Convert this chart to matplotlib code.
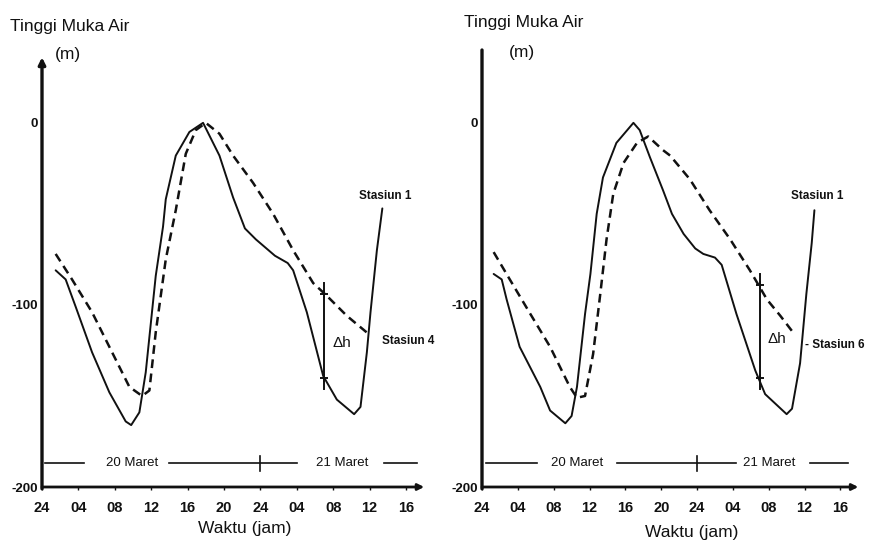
import matplotlib.pyplot as plt
from matplotlib import font_manager

# ---- data (hours since 24:00 on 19 March) ----
tick_hours = [0, 4, 8, 12, 16, 20, 24, 28, 32, 36, 40]
tick_labels = ["24", "04", "08", "12", "16", "20", "24", "04", "08", "12", "16"]
y_ticks = [0, -100, -200]
y_tick_labels = ["0", "-100", "-200"]

# left panel: Stasiun 1 (solid) vs Stasiun 4 (dashed)
st1_a_h = [1.5, 2.6, 3.7, 5.5, 7.4, 9.2, 9.8, 10.7, 11.4, 12.5, 13.3, 13.6, 14.7,
           16.2, 17.7, 19.5, 21.0, 22.3, 23.5, 25.6, 27.0, 27.6, 29.1, 30.9, 32.4,
           34.3, 35.0, 35.7, 36.1, 36.8, 37.4]
st1_a_v = [-81, -86, -101, -126, -148, -164, -166, -159, -137, -84, -57, -42, -18,
           -5, 0, -18, -41, -58, -64, -73, -77, -81, -104, -139, -152,
           -160, -156, -126, -104, -70, -47]
st4_h = [1.5, 3.3, 5.5, 7.7, 9.6, 11.0, 11.8, 12.5, 13.6, 14.7, 15.8, 16.9, 18.0,
         19.5, 21.0, 23.2, 25.4, 27.6, 29.8, 31.3, 33.5, 35.9]
st4_v = [-72, -86, -104, -126, -145, -150, -147, -115, -75, -48, -17, -4, 0,
         -6, -18, -33, -50, -70, -88, -95, -106, -116]

# right panel: Stasiun 1 (solid) vs Stasiun 6 (dashed)
st1_b_h = [1.3, 2.2, 2.75, 4.2, 6.5, 7.6, 9.3, 10.0, 10.6, 11.5, 12.1, 12.8, 13.5,
           15.0, 16.9, 17.6, 18.75, 20.2, 21.2, 22.5, 23.8, 24.7, 26.0, 26.75,
           28.4, 30.5, 31.6, 34.0, 34.6, 35.5, 36.2, 36.8, 37.1]
st1_b_v = [-83, -86, -97, -123, -145, -158, -165, -161, -145, -105, -83, -50, -30,
           -11, 0, -4, -19, -37, -50, -61, -69, -72, -74, -78,
           -105, -136, -149, -160, -157, -132, -94, -66, -48]
st6_h = [1.3, 3.1, 5.4, 7.6, 9.8, 10.6, 11.5, 12.4, 13.2, 13.9, 14.65, 15.8, 17.3,
         18.55, 20.2, 21.0, 23.2, 25.4, 27.7, 29.9, 31.8, 33.3, 34.7]
st6_v = [-71, -86, -105, -123, -145, -151, -150, -127, -94, -64, -39, -22, -11,
         -7.5, -15, -18, -31, -48, -64, -81, -97, -106, -115]

# delta h markers: (hour, top, bottom)
dh_a = (31.0, -94, -140)
dh_b = (31.0, -89, -140)

ink = "#111111"
names = {f.name for f in font_manager.fontManager.ttflist}
font = "Liberation Sans Narrow" if "Liberation Sans Narrow" in names else "Liberation Sans"

W, H = 871, 544
fig = plt.figure(figsize=(W / 100, H / 100), dpi=100)


def px(x, y):
    return x / W, 1 - y / H


def panel(rect, sh, sv, dh, dv, dmark, other_label, other_xy, ytop, yaxis_arrow, dates):
    ax = fig.add_axes(rect)
    ax.set_xlim(0, 44)
    ax.set_ylim(-200, 40)
    for s in ax.spines.values():
        s.set_visible(False)

    ax.plot(sh, sv, color=ink, lw=1.4, solid_capstyle="round")
    ax.plot(dh, dv, color=ink, lw=1.8, linestyle=(0, (3.5, 2.2)))

    # axes drawn by hand with arrows
    ax.annotate("", xy=(42, -200), xytext=(0, -200), annotation_clip=False,
                arrowprops=dict(arrowstyle="-|>", lw=2, color=ink,
                                mutation_scale=9, shrinkA=0, shrinkB=0))
    ax.annotate("", xy=(0, ytop), xytext=(0, -201), annotation_clip=False,
                arrowprops=dict(arrowstyle="-|>" if yaxis_arrow else "-", lw=2.4,
                                color=ink, mutation_scale=10, shrinkA=0, shrinkB=0))

    ax.set_xticks(tick_hours)
    ax.set_xticklabels(tick_labels, fontfamily=font, fontweight="bold", fontsize=10.5)
    ax.set_yticks(y_ticks)
    ax.set_yticklabels(y_tick_labels, fontfamily=font, fontweight="bold", fontsize=9.5)
    ax.tick_params(axis="x", length=2, width=1, pad=8, colors=ink)
    ax.tick_params(axis="y", length=0, pad=3, colors=ink)

    # delta h bar
    h, top, bot = dmark
    ax.plot([h, h], [top + 6, bot - 6], color=ink, lw=1.4)
    ax.plot([h, h], [top, bot], "+", color=ink, ms=6, mew=1.4)
    ax.text(h + 0.9, (top + bot) / 2 - 4, "Δh", fontsize=11,
            fontfamily=font, color=ink, va="center")

    # station labels
    ax.text(sh[-1] + 0.3, -40, "Stasiun 1", fontfamily=font, fontweight="bold",
            fontsize=8.5, ha="center", va="center", color=ink)
    ax.text(other_xy[0], other_xy[1], other_label, fontfamily=font,
            fontweight="bold", fontsize=8.5, ha="left", va="center", color=ink)

    # date bar
    yb = -187
    seg1, t1, seg2, t2, seg3 = dates
    for a, b in (seg1, seg2, seg3):
        ax.plot([a, b], [yb, yb], color=ink, lw=1.2)
    ax.plot([24, 24], [yb - 4, yb + 4], color=ink, lw=1.2)
    ax.text(t1, yb, "20 Maret", fontfamily=font, fontsize=9.5,
            ha="center", va="center", color=ink)
    ax.text(t2, yb, "21 Maret", fontfamily=font, fontsize=9.5,
            ha="center", va="center", color=ink)
    return ax


yb0, yh = 1 - 487 / H, (487 - 50) / H
panel([42 / W, yb0, 44 * 9.1 / W, yh], st1_a_h, st1_a_v, st4_h, st4_v, dh_a,
      "Stasiun 4", (37.4, -120), 36, True,
      ((0.3, 4.6), 9.9, (14.0, 28.0), 33.0, (37.6, 41.2)))
panel([482 / W, yb0, 44 * 8.96 / W, yh], st1_b_h, st1_b_v, st6_h, st6_v, dh_b,
      "- Stasiun 6", (36.0, -122), 40, False,
      ((0.5, 6.1), 10.6, (15.1, 28.4), 32.0, (36.6, 40.9)))

# axis titles
for x0, xm, yt, ym in ((10, 68, 27, 55), (464, 522, 23, 52)):
    fig.text(*px(x0, yt), "Tinggi Muka Air", fontfamily=font, fontsize=12.5,
             ha="left", va="center", color=ink)
    fig.text(*px(xm, ym), "(m)", fontfamily=font, fontsize=12.5,
             ha="center", va="center", color=ink)
for xc, yc in ((245, 528), (692, 532)):
    fig.text(*px(xc, yc), "Waktu (jam)", fontfamily=font, fontsize=12.5,
             ha="center", va="center", color=ink)

fig.savefig("out.png", dpi=100)
